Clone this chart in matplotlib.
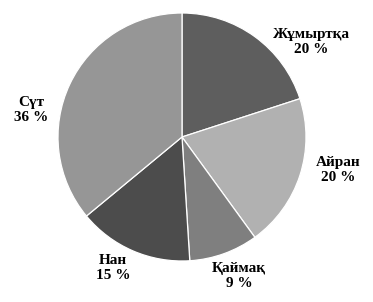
"""Pie chart: share of dairy/food products (Kazakh labels)."""

import matplotlib

matplotlib.use("Agg")
import matplotlib.pyplot as plt

# --- Data -------------------------------------------------------------------
categories = ["Жұмыртқа", "Айран", "Қаймақ", "Нан", "Сүт"]
shares = [20, 20, 9, 15, 36]

# --- Styling / layout (pixel coordinates of the 373x302 canvas) -------------
colors = ["#5e5e5e", "#b1b1b1", "#7f7f7f", "#4c4c4c", "#969696"]
label_pos = [(311, 42), (338, 170), (239, 276), (113, 268), (31, 110)]
W, H = 373, 302
CENTER = (182, 137)
RADIUS = 124

plt.rcParams["font.family"] = ["Liberation Serif", "DejaVu Serif"]

fig = plt.figure(figsize=(W / 100, H / 100), dpi=100)
ax = fig.add_axes([0, 0, 1, 1])
ax.set_xlim(0, W)
ax.set_ylim(0, H)
ax.axis("off")

ax.pie(
    shares,
    colors=colors,
    startangle=90,
    counterclock=False,
    center=(CENTER[0], H - CENTER[1]),
    radius=RADIUS,
    wedgeprops={"edgecolor": "white", "linewidth": 0.9},
    frame=True,
)
ax.set_xlim(0, W)
ax.set_ylim(0, H)
ax.axis("off")

for name, value, (x, y) in zip(categories, shares, label_pos):
    ax.text(
        x,
        H - y,
        f"{name}\n{value} %",
        ha="center",
        va="center",
        fontsize=11,
        fontweight="bold",
        linespacing=1.15,
        color="black",
    )

fig.savefig("out.png", dpi=100)
